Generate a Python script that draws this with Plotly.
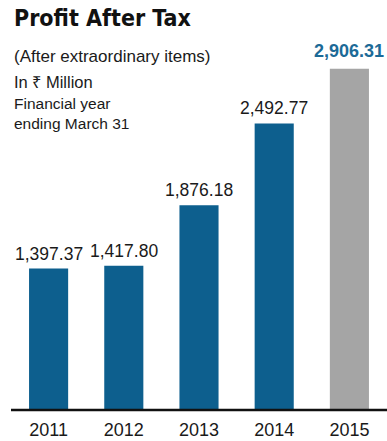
import plotly.graph_objects as go

# Profit after tax, INR million, financial years ending March 31
years = ["2011", "2012", "2013", "2014", "2015"]
profit = [1397.37, 1417.80, 1876.18, 2492.77, 2906.31]
value_labels = ["1,397.37", "1,417.80", "1,876.18", "2,492.77", "2,906.31"]

BLUE = "#0d5f8e"
GREY = "#a5a5a5"
bar_colors = [BLUE, BLUE, BLUE, BLUE, GREY]

SANS = "Liberation Sans, Arial, sans-serif"
COND = "DejaVu Sans Condensed, sans-serif"

W, H = 387, 441
ML, MR, MT, MB = 11, 0, 60, 31
PW, PH = W - ML - MR, H - MT - MB


def px(x):
    return (x - ML) / PW


def py(y):
    return (H - MB - y) / PH


fig = go.Figure(
    go.Bar(
        x=years,
        y=profit,
        marker=dict(color=bar_colors, line=dict(width=0)),
        hoverinfo="skip",
    )
)

annotations = []
for i, (v, lab) in enumerate(zip(profit, value_labels)):
    last = i == len(years) - 1
    # category axes take the serial index of the category for annotations
    annotations.append(
        dict(
            x=i,
            y=v,
            xref="x",
            yref="y",
            text=f"<b>{lab}</b>" if last else lab,
            showarrow=False,
            yanchor="bottom",
            yshift=6 if last else 3,
            font=dict(
                family=SANS,
                size=18 if last else 17.5,
                color="#1c6a97" if last else "#1a1a1a",
            ),
        )
    )

header = [
    ("<b>Profit After Tax</b>", 18, 23, COND, "#111111"),
    ("(After extraordinary items)", 56, 17, SANS, "#1a1a1a"),
    ("In ₹ Million", 82, 16.5, SANS, "#1a1a1a"),
    ("Financial year", 103, 15.5, SANS, "#1a1a1a"),
    ("ending March 31", 123, 15.5, SANS, "#1a1a1a"),
]
for text, yc, size, fam, col in header:
    annotations.append(
        dict(
            x=px(12),
            y=py(yc),
            xref="paper",
            yref="paper",
            text=text,
            showarrow=False,
            xanchor="left",
            yanchor="middle",
            font=dict(family=fam, size=size, color=col),
        )
    )

fig.update_layout(
    width=W,
    height=H,
    margin=dict(l=ML, r=MR, t=MT, b=MB, pad=0),
    paper_bgcolor="white",
    plot_bgcolor="white",
    bargap=0.48,
    showlegend=False,
    annotations=annotations,
    shapes=[
        dict(
            type="line",
            xref="paper",
            yref="paper",
            x0=0,
            x1=1,
            y0=0,
            y1=0,
            line=dict(color="#111111", width=2.5),
        )
    ],
    xaxis=dict(
        type="category",
        range=[-0.5, 4.5],
        showline=False,
        showgrid=False,
        ticks="",
        ticklabelstandoff=7,
        tickfont=dict(family=SANS, size=18, color="#1a1a1a"),
        fixedrange=True,
    ),
    yaxis=dict(
        range=[330, 2971.5],
        visible=False,
        showgrid=False,
        zeroline=False,
        fixedrange=True,
    ),
)

fig.write_html("out.html")
